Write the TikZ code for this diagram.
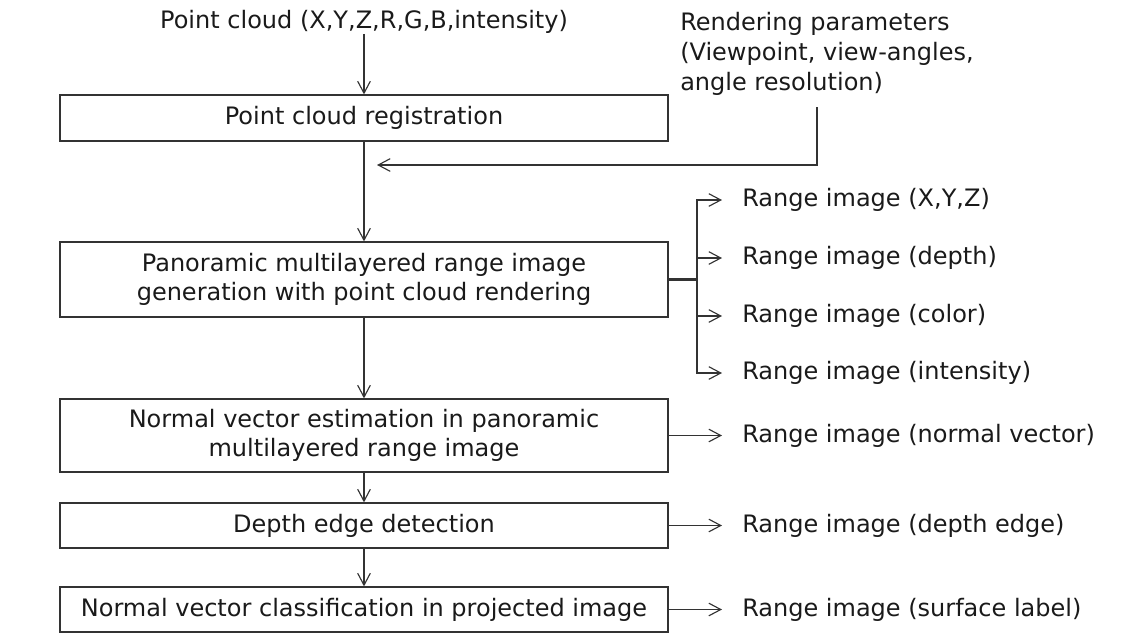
\documentclass[tikz,border=0pt]{standalone}
\usepackage{fontspec}
\setmainfont{DejaVu Sans}
\usepackage{tikz}
\usetikzlibrary{arrows.meta,positioning,calc}
\definecolor{pcink}  {HTML}{1A1A1A}
\definecolor{pcline} {HTML}{333333}
\tikzset{
  pcbox/.style={draw=pcline, line width=0.9pt, fill=white, inner sep=0pt,
                minimum width=456pt, align=center, font=\fontsize{18}{21.5}\selectfont,
                text=pcink},
  pctext/.style={inner sep=0pt, font=\fontsize{18}{22.5}\selectfont, text=pcink},
  pcout/.style={pctext, anchor=west, inner xsep=15pt},
  pcedge/.style={-{Straight Barb[length=9pt,width=9.5pt]}, draw=pcline, line width=0.85pt},
  pcfork/.style={draw=pcline, line width=1.8pt},
}
\begin{document}
\begin{tikzpicture}[x=0.75pt,y=-0.75pt]
  \useasboundingbox (0,0) rectangle (1146,633);
  % main chain
  \node[pctext] (src) at (364,22) {Point cloud (X,Y,Z,R,G,B,intensity)};
  \node[pcbox, minimum height=34.5pt] (reg) at (364,118) {Point cloud registration};
  \node[pcbox, minimum height=56.25pt] (pano) at (364,279.5)
    {Panoramic multilayered range image\\generation with point cloud rendering};
  \node[pcbox, minimum height=54.75pt] (normal) at (364,435.5)
    {Normal vector estimation in panoramic\\multilayered range image};
  \node[pcbox, minimum height=33.75pt] (depth) at (364,525.5) {Depth edge detection};
  \node[pcbox, minimum height=33.75pt] (classif) at (364,609.5)
    {Normal vector classification in projected image};
  % rendering parameters
  \node[pctext, anchor=north west, align=left] (param) at (680,12)
    {Rendering parameters\\(Viewpoint, view-angles,\\angle resolution)};
  \coordinate (paramfoot) at (817,107);
  \coordinate (merge) at (377,165);
  % outputs
  \node[pcout] (rxyz)    at (722,200) {Range image (X,Y,Z)};
  \node[pcout] (rdepth)  at (722,258) {Range image (depth)};
  \node[pcout] (rcolor)  at (722,316) {Range image (color)};
  \node[pcout] (rint)    at (722,373) {Range image (intensity)};
  \node[pcout] (rnormal) at (722,435.5) {Range image (normal vector)};
  \node[pcout] (redge)   at (722,525.5) {Range image (depth edge)};
  \node[pcout] (rlabel)  at (722,609.5) {Range image (surface label)};
  \coordinate (fork) at (697,279.5);

  \draw[pcedge] (src) -- (reg);
  \draw[pcedge] (reg) -- (pano);
  \draw[pcedge] (pano) -- (normal);
  \draw[pcedge] (normal) -- (depth);
  \draw[pcedge] (depth) -- (classif);
  \draw[pcedge] (paramfoot) |- (merge);
  \draw[pcfork] (pano.east) -- (fork);
  \foreach \r in {rxyz,rdepth,rcolor,rint}
    \draw[pcedge] (fork) |- (\r.west);
  \draw[pcedge] (normal.east) -- (rnormal.west);
  \draw[pcedge] (depth.east) -- (redge.west);
  \draw[pcedge] (classif.east) -- (rlabel.west);
\end{tikzpicture}
\end{document}
